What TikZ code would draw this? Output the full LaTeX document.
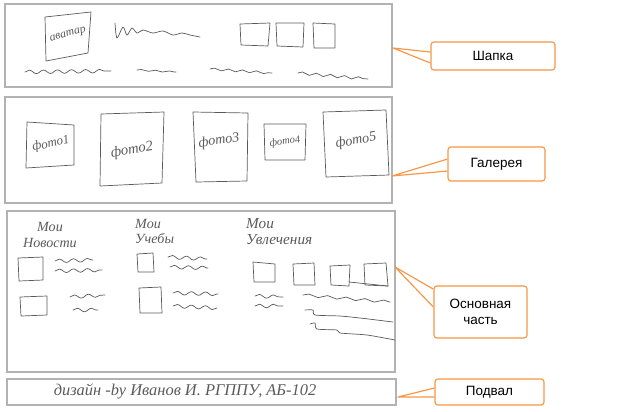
\documentclass[tikz,border=0pt]{standalone}
\usepackage{fontspec}
\setmainfont{Liberation Sans}
\newfontfamily\handfont{Liberation Serif}
\usetikzlibrary{decorations.pathmorphing}

\definecolor{framegray}{RGB}{178,178,178}
\definecolor{pengray}{RGB}{90,90,90}
\definecolor{calloutorange}{RGB}{247,150,70}

\tikzset{
  frame/.style={draw=framegray, line width=1.6pt},
  pen/.style={draw=pengray, line width=0.6pt, line join=round, line cap=round},
  wave/.style={pen, decorate, decoration={snake, amplitude=1.5pt, segment length=12pt}},
  hand/.style={text=pengray, inner sep=0pt, font=\handfont\itshape\fontsize{10}{11}\selectfont},
  callout/.style={draw=calloutorange, line width=1pt, rounded corners=2.5pt, fill=white,
    align=center, font=\fontsize{11.5}{14}\selectfont},
  pointer/.style={draw=calloutorange, line width=1pt, line join=round},
}

\begin{document}
\begin{tikzpicture}[x=0.03cm, y=-0.03cm]
\useasboundingbox (0,0) rectangle (624,411);

% page parts
\draw[frame] (5,4) rectangle (392,87);
\draw[frame] (5,97) rectangle (392,203);
\draw[frame] (7,211) rectangle (395,372);
\draw[frame] (7,379) rectangle (396,405);

% header
\draw[pen] (45,17) -- (91,12) -- (88,53) -- (46,61) -- cycle;
\node[hand, rotate=15] (avatar) at (68,35) {аватар};
\draw[pen] plot[smooth, tension=.5] coordinates {(115,23) (117,38) (123,27) (127,35) (132,28)
  (137,33) (143,30) (153,33) (163,31) (173,35) (182,33) (190,35) (200,37)};
\draw[pen] (240,24) -- (270,23) -- (268,46) -- (241,45) -- cycle;
\draw[pen] (276,23) -- (304,23) -- (303,47) -- (277,46) -- cycle;
\draw[pen] (313,23) -- (335,24) -- (335,48) -- (314,48) -- cycle;
\draw[wave] (25,72) -- (111,71);
\draw[wave, decoration={amplitude=.6pt}] (137,70) -- (176,72);
\draw[wave, decoration={amplitude=1pt}] (210,69) -- (272,73);
\draw[wave, decoration={amplitude=1.2pt}] (298,73) -- (368,79);

% gallery
\draw[pen] (27,122) -- (74,125) -- (74,165) -- (26,168) -- cycle;
\node[hand, rotate=12, font=\handfont\itshape\fontsize{11}{12}\selectfont] (foto1) at (51,144) {фото1};
\draw[pen] (101,114) -- (164,112) -- (162,183) -- (100,186) -- cycle;
\node[hand, rotate=10, font=\handfont\itshape\fontsize{12.5}{13}\selectfont] (foto2) at (132,150) {фото2};
\draw[pen] (193,112) -- (248,113) -- (247,181) -- (196,182) -- cycle;
\node[hand, rotate=8, font=\handfont\itshape\fontsize{12}{13}\selectfont] (foto3) at (219,141) {фото3};
\draw[pen] (264,124) -- (306,124) -- (305,160) -- (265,160) -- cycle;
\node[hand, rotate=8, font=\handfont\itshape\fontsize{9}{10}\selectfont] (foto4) at (285,142) {фото4};
\draw[pen] (323,112) -- (386,110) -- (389,175) -- (326,177) -- cycle;
\node[hand, rotate=10, font=\handfont\itshape\fontsize{12}{13}\selectfont] (foto5) at (356,141) {фото5};

% main part
\node[hand, align=center, font=\handfont\itshape\fontsize{12}{13}\selectfont] (news) at (50,235) {Мои\\Новости};
\draw[pen] (18,258) -- (43,257) -- (43,280) -- (19,281) -- cycle;
\draw[wave] (55,261) -- (93,260);
\draw[wave] (55,271) -- (102,270);
\draw[pen] (20,297) -- (47,296) -- (47,315) -- (21,316) -- cycle;
\draw[wave] (70,297) -- (105,295);
\draw[wave] (73,310) -- (98,310);

\node[hand, align=left, anchor=north west, font=\handfont\itshape\fontsize{12}{13}\selectfont] (study) at (135,219) {Мои\\Учебы};
\draw[pen] (137,254) -- (153,253) -- (154,272) -- (138,272) -- cycle;
\draw[wave] (168,257) -- (207,259);
\draw[wave] (170,267) -- (208,268);
\draw[pen] (139,288) -- (161,287) -- (162,313) -- (140,313) -- cycle;
\draw[wave] (173,293) -- (218,294);
\draw[wave] (173,306) -- (217,308);

\node[hand, align=left, anchor=north west, font=\handfont\itshape\fontsize{13}{14}\selectfont] (hobby) at (246,218) {Мои\\Увлечения};
\draw[pen] (253,262) -- (275,264) -- (275,282) -- (254,282) -- cycle;
\draw[pen] (293,264) -- (314,263) -- (315,285) -- (294,285) -- cycle;
\draw[pen] (330,266) -- (350,265) -- (349,286) -- (331,285) -- cycle;
\draw[pen] (349,282) -- (388,286);
\draw[pen] (364,264) -- (386,263) -- (388,286) -- (365,285) -- cycle;
\draw[wave] (255,296) -- (283,297);
\draw[wave] (255,306) -- (283,306);
\draw[wave, decoration={amplitude=1.2pt, segment length=16pt}] (303,295) -- (390,302);
\draw[pen] plot[smooth, tension=.4] coordinates {(305,310) (313,310) (315,315) (340,316)
  (360,318) (393,322)};
\draw[pen] plot[smooth, tension=.4] coordinates {(310,324) (315,323) (317,329) (337,330)
  (340,333) (367,335) (395,340)};

% footer
\node[hand, font=\handfont\itshape\fontsize{14}{16}\selectfont] (design) at (185,391)
  {дизайн -by Иванов И. РГППУ, АБ-102};

% callouts
\coordinate (shapkatip) at (393,48);
\coordinate (galleryTip) at (392,176);
\coordinate (mainTip) at (395,267);
\coordinate (footerTip) at (398,397);

\node[callout, minimum width=3.72cm, minimum height=0.84cm] (shapka) at (493,56) {Шапка};
\node[callout, minimum width=2.91cm, minimum height=1.02cm] (gallery) at (496.5,164) {Галерея};
\node[callout, minimum width=2.79cm, minimum height=1.56cm] (mainpart) at (480.5,312) {Основная\\часть};
\node[callout, minimum width=3.27cm, minimum height=0.78cm] (footer) at (489.5,392) {Подвал};

\draw[pointer] ([yshift=3.4pt]shapka.west) -- (shapkatip) -- ([yshift=-6pt]shapka.west);
\draw[pointer] ([yshift=4.2pt]gallery.west) -- (galleryTip) -- ([yshift=-6pt]gallery.west);
\draw[pointer] ([yshift=19.5pt]mainpart.west) -- (mainTip) -- ([yshift=4.2pt]mainpart.west);
\draw[pointer] ([yshift=3.4pt]footer.west) -- (footerTip) -- ([yshift=-4.2pt]footer.west);
\end{tikzpicture}
\end{document}
